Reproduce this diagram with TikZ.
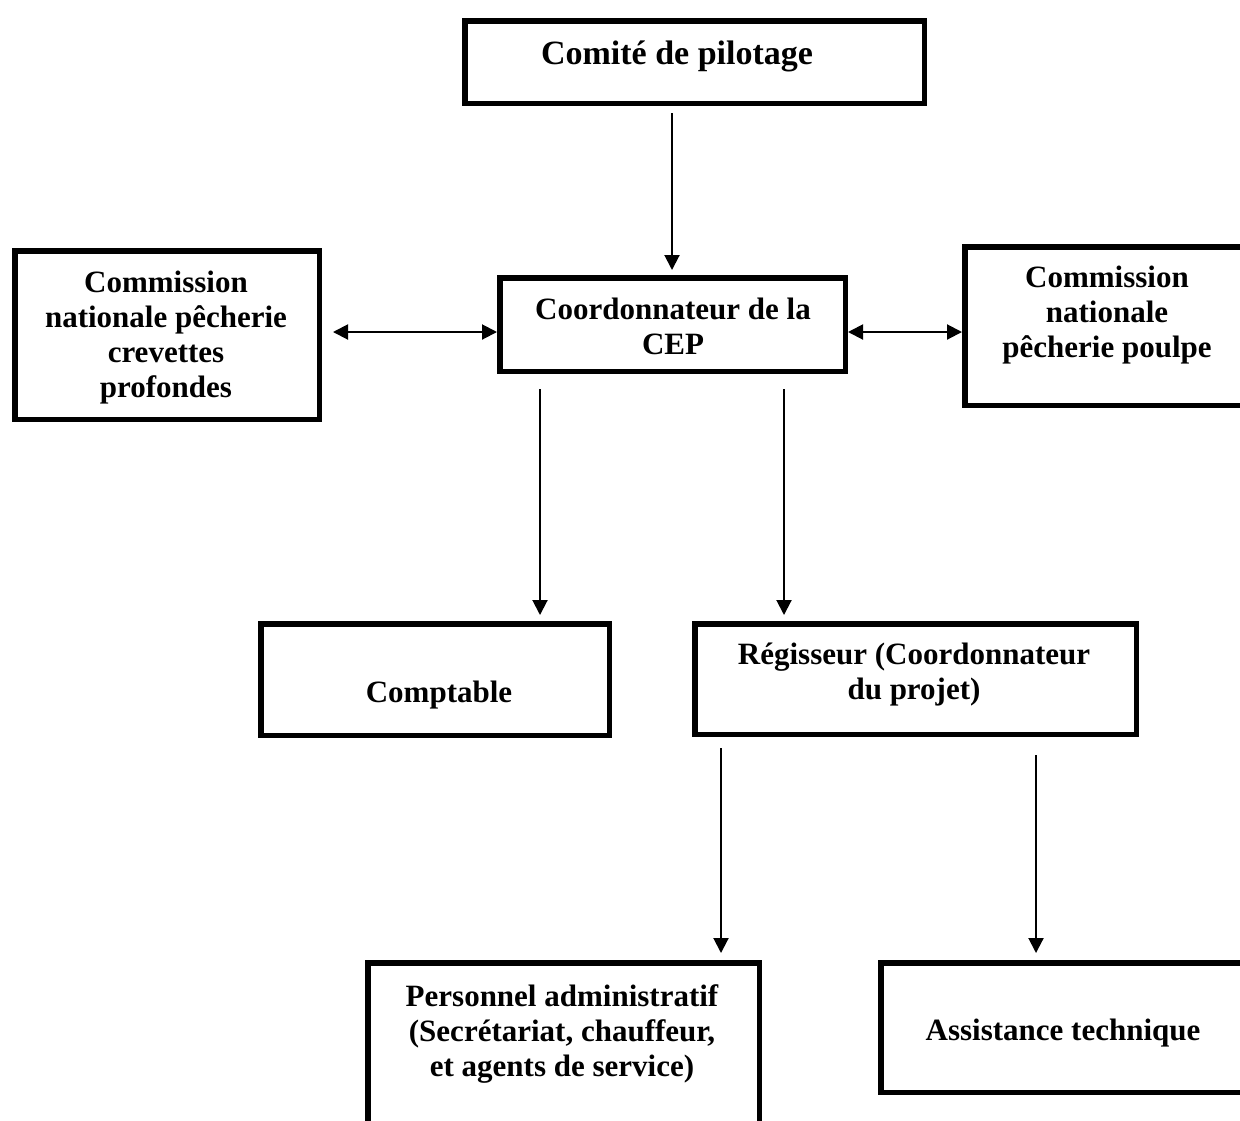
\documentclass[tikz,border=0pt]{standalone}
\usepackage{fontspec}
\setmainfont{Liberation Serif}
\usetikzlibrary{arrows.meta}
\newcommand\mlines[1]{\begin{tabular}[t]{@{}c@{}}#1\end{tabular}}
\begin{document}
\begin{tikzpicture}[x=0.5pt,y=-0.5pt,
  box/.style={draw, line width=2.75pt, rectangle, inner sep=0pt},
  txt/.style={anchor=base, inner sep=0pt, font=\fontsize{15.5}{17.5}\selectfont\bfseries},
  arr/.style={line width=1pt, -{Triangle[length=7.5pt,width=7.5pt]}},
  darr/.style={line width=1pt, {Triangle[length=7.5pt,width=7.5pt]}-{Triangle[length=7.5pt,width=7.5pt]}}]
\useasboundingbox (0,0) rectangle (1240,1120);
\clip (0,0) rectangle (1240,1120);
% boxes
\node[box, minimum width=229.75pt, minimum height=41.25pt] (comite) at (694.5,62) {};
\node[box, minimum width=172.75pt, minimum height=46.75pt] (coord) at (672.5,324.5) {};
\node[box, minimum width=152.25pt, minimum height=84.25pt] (left) at (167,335) {};
\node[box, minimum width=141.25pt, minimum height=79.25pt] (right) at (1106,326) {};
\node[box, minimum width=174.25pt, minimum height=55.75pt] (comptable) at (435,679.5) {};
\node[box, minimum width=220.75pt, minimum height=55.25pt] (regisseur) at (915.5,679) {};
\node[box, minimum width=195.75pt, minimum height=82.25pt] (personnel) at (563.5,1045) {};
\node[box, minimum width=183.25pt, minimum height=64.75pt] (assistance) at (1064,1027.5) {};
% texts
\node[txt, font=\fontsize{17}{19}\selectfont\bfseries] (t-comite) at (677,64) {\mlines{Comité de pilotage}};
\node[txt] (t-coord) at (673,319) {\mlines{Coordonnateur de la\\CEP}};
\node[txt] (t-left) at (166,292) {\mlines{Commission\\nationale pêcherie\\crevettes\\profondes}};
\node[txt] (t-right) at (1107,287) {\mlines{Commission\\nationale\\pêcherie poulpe}};
\node[txt] (t-comptable) at (439,702) {\mlines{Comptable}};
\node[txt] (t-regisseur) at (914,664) {\mlines{Régisseur (Coordonnateur\\du projet)}};
\node[txt] (t-personnel) at (562,1006) {\mlines{Personnel administratif\\(Secrétariat, chauffeur,\\et agents de service)}};
\node[txt] (t-assistance) at (1063,1040) {\mlines{Assistance technique}};
% arrow columns
\coordinate (ca) at (672,0);
\coordinate (cb) at (540,0);
\coordinate (cc) at (784,0);
\coordinate (cd) at (721,0);
\coordinate (ce) at (1036,0);
\coordinate (ry) at (0,332);
% connectors
\draw[arr, shorten <=3.5pt, shorten >=2.5pt] (comite.south -| ca) -- (coord.north -| ca);
\draw[darr, shorten <=5.5pt] (left.east |- ry) -- (coord.west |- ry);
\draw[darr] (coord.east |- ry) -- (right.west |- ry);
\draw[arr, shorten <=7.5pt, shorten >=3pt] (coord.south -| cb) -- (comptable.north -| cb);
\draw[arr, shorten <=7.5pt, shorten >=3pt] (coord.south -| cc) -- (regisseur.north -| cc);
\draw[arr, shorten <=5.5pt, shorten >=3.5pt] (regisseur.south -| cd) -- (personnel.north -| cd);
\draw[arr, shorten <=9pt, shorten >=3.5pt] (regisseur.south -| ce) -- (assistance.north -| ce);
\end{tikzpicture}
\end{document}
